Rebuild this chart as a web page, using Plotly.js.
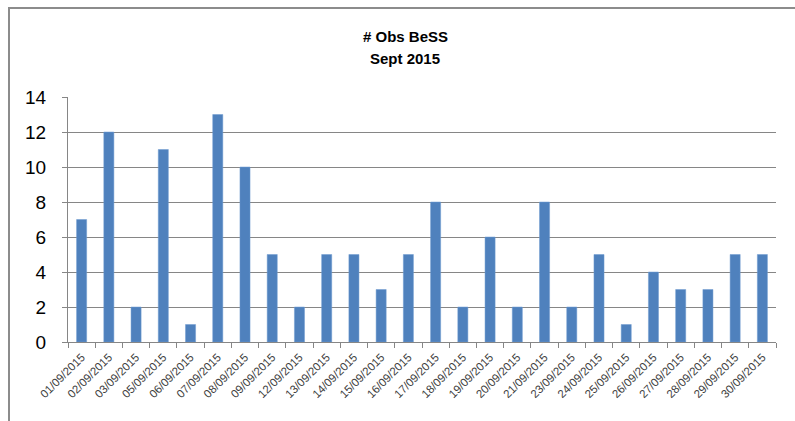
<!DOCTYPE html>
<html>
<head>
<meta charset="utf-8">
<script src="https://cdn.plot.ly/plotly-3.0.1.min.js"></script>
<style>
    body { margin: 0; background: #fff; }
    #chart { position: absolute; left: 0; top: 0; width: 795px; height: 421px; }
    #frame {
        position: absolute; left: 8px; top: 7px; width: 800px; height: 430px;
        border-left: 2px solid #8c8c8c; border-top: 2px solid #8c8c8c;
        pointer-events: none;
    }
</style>
</head>
<body>
<div id="chart"></div>
<div id="frame"></div>
<script>
const days = [
    "01/09/2015", "02/09/2015", "03/09/2015", "05/09/2015", "06/09/2015",
    "07/09/2015", "08/09/2015", "09/09/2015", "12/09/2015", "13/09/2015",
    "14/09/2015", "15/09/2015", "16/09/2015", "17/09/2015", "18/09/2015",
    "19/09/2015", "20/09/2015", "21/09/2015", "23/09/2015", "24/09/2015",
    "25/09/2015", "26/09/2015", "27/09/2015", "28/09/2015", "29/09/2015",
    "30/09/2015"
];
const obs = [7, 12, 2, 11, 1, 13, 10, 5, 2, 5, 5, 3, 5, 8, 2, 6, 2, 8, 2, 5, 1, 4, 3, 3, 5, 5];
const yTicks = [0, 2, 4, 6, 8, 10, 12, 14];

function ObsPlot(id) {
    let trace = {
        x: days,
        y: obs,
        type: "bar",
        marker: {
            color: "#4f81bd",
            line: {color: "#6f9bd1", width: 0.5},
        },
        hoverinfo: "x+y",
    };

    let layout = {
        width: 795,
        height: 421,
        margin: {l: 68, r: 19, t: 97, b: 79},
        paper_bgcolor: "#ffffff",
        plot_bgcolor: "#ffffff",
        showlegend: false,
        bargap: 0.63,
        font: {family: "Liberation Sans, Arial, sans-serif", color: "#262626"},
        annotations: [
            {
                text: "<b># Obs BeSS</b>",
                xref: "paper", yref: "paper",
                x: 0.476, y: 1, xanchor: "center", yanchor: "middle",
                yshift: 61,
                showarrow: false,
                font: {size: 15, color: "#000000"},
            },
            {
                text: "<b>Sept 2015</b>",
                xref: "paper", yref: "paper",
                x: 0.476, y: 1, xanchor: "center", yanchor: "middle",
                yshift: 39,
                showarrow: false,
                font: {size: 15, color: "#000000"},
            },
        ],
        xaxis: {
            type: "category",
            tickangle: -45,
            tickfont: {size: 11.5, color: "#404040"},
            ticks: "outside",
            tickson: "boundaries",
            ticklen: 5,
            tickcolor: "#868686",
            ticklabelstandoff: 3,
            showline: true,
            linecolor: "#868686",
            linewidth: 1,
            showgrid: false,
            fixedrange: true,
        },
        yaxis: {
            range: [0, 14],
            tickvals: yTicks,
            tickfont: {size: 19, color: "#000000"},
            ticks: "outside",
            ticklen: 5,
            tickcolor: "#868686",
            ticklabelstandoff: 12,
            showline: true,
            linecolor: "#868686",
            linewidth: 1,
            showgrid: true,
            gridcolor: "#868686",
            gridwidth: 1,
            zeroline: false,
            fixedrange: true,
        },
    };

    let config = {displayModeBar: false, staticPlot: true};

    Plotly.newPlot(id, [trace], layout, config);
}

window.addEventListener('load', function () {
    ObsPlot("chart");
})
</script>
</body>
</html>
